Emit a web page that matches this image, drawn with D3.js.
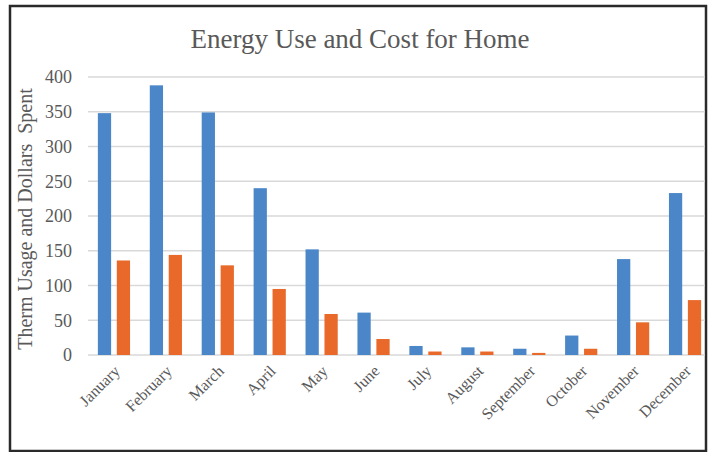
<!DOCTYPE html>
<html>
<head>
<meta charset="utf-8">
<script src="https://cdn.jsdelivr.net/npm/d3@7"></script>
<style>
  body { margin: 0; background: #fff; }
  text { font-family: "Liberation Serif", "Times New Roman", serif; fill: #595959; }
</style>
</head>
<body>
<script>
// data
var months = ["January", "February", "March", "April", "May", "June", "July",
  "August", "September", "October", "November", "December"];
var therms = [348, 388, 349, 240, 152, 61, 13, 11, 9, 28, 138, 233];
var dollars = [136, 144, 129, 95, 59, 23, 5, 5, 3, 9, 47, 79];
var yTicks = [0, 50, 100, 150, 200, 250, 300, 350, 400];

var width = 713, height = 452;
var margin = { top: 77, right: 3, bottom: 97, left: 88 };

var svg = d3.select("body").append("svg")
  .attr("width", width)
  .attr("height", height);

// frame
svg.append("rect")
  .attr("x", 10).attr("y", 6)
  .attr("width", 696).attr("height", 445)
  .attr("fill", "none")
  .attr("stroke", "#2a2a2a")
  .attr("stroke-width", 2.5);

var g = svg.append("g")
  .attr("transform", "translate(" + margin.left + "," + margin.top + ")");

var h = height - margin.top - margin.bottom;

var x = d3.scaleBand().domain(months).range([0, 623]).paddingInner(0.38).paddingOuter(0.19);
var y = d3.scaleLinear().domain([0, 400]).range([h, 0]);

// grid
g.selectAll(".grid")
  .data(yTicks)
  .enter()
  .append("line")
  .attr("x1", 0)
  .attr("x2", 617)
  .attr("y1", function (d) { return y(d); })
  .attr("y2", function (d) { return y(d); })
  .attr("stroke", "#d9d9d9")
  .attr("stroke-width", 1.3);

var x1 = d3.scaleBand().domain(["therms", "dollars"]).range([0, x.bandwidth()]).paddingInner(0.3);

var groups = g.selectAll(".month")
  .data(months)
  .enter()
  .append("g")
  .attr("transform", function (d) { return "translate(" + x(d) + ",0)"; });

groups.append("rect")
  .attr("x", x1("therms"))
  .attr("width", x1.bandwidth())
  .attr("y", function (d, i) { return y(therms[i]); })
  .attr("height", function (d, i) { return h - y(therms[i]); })
  .attr("fill", "#4a86c8");

groups.append("rect")
  .attr("x", x1("dollars"))
  .attr("width", x1.bandwidth())
  .attr("y", function (d, i) { return y(dollars[i]); })
  .attr("height", function (d, i) { return h - y(dollars[i]); })
  .attr("fill", "#e8692a");

// y axis
var yAxis = d3.axisLeft(y).tickValues(yTicks).tickSize(0).tickPadding(16);
g.append("g")
  .call(yAxis)
  .call(function (s) { s.select(".domain").remove(); })
  .selectAll("text")
  .style("font-size", "18px");

// x axis
var xAxis = d3.axisBottom(x).tickSize(0).tickPadding(0);
g.append("g")
  .attr("transform", "translate(0," + h + ")")
  .call(xAxis)
  .call(function (s) { s.select(".domain").remove(); })
  .selectAll("text")
  .style("font-size", "16px")
  .attr("text-anchor", "end")
  .attr("dy", "0")
  .attr("transform", "translate(7,17) rotate(-45)");

svg.selectAll(".tick text").attr("font-family", null);

svg.append("text")
  .attr("x", 360)
  .attr("y", 48)
  .attr("text-anchor", "middle")
  .style("font-size", "27px")
  .text("Energy Use and Cost for Home");

svg.append("text")
  .attr("transform", "translate(32," + (margin.top + h / 2 + 3) + ") rotate(-90)")
  .attr("text-anchor", "middle")
  .style("font-size", "20px")
  .style("white-space", "pre")
  .text("Therm Usage and Dollars  Spent");
</script>
</body>
</html>
